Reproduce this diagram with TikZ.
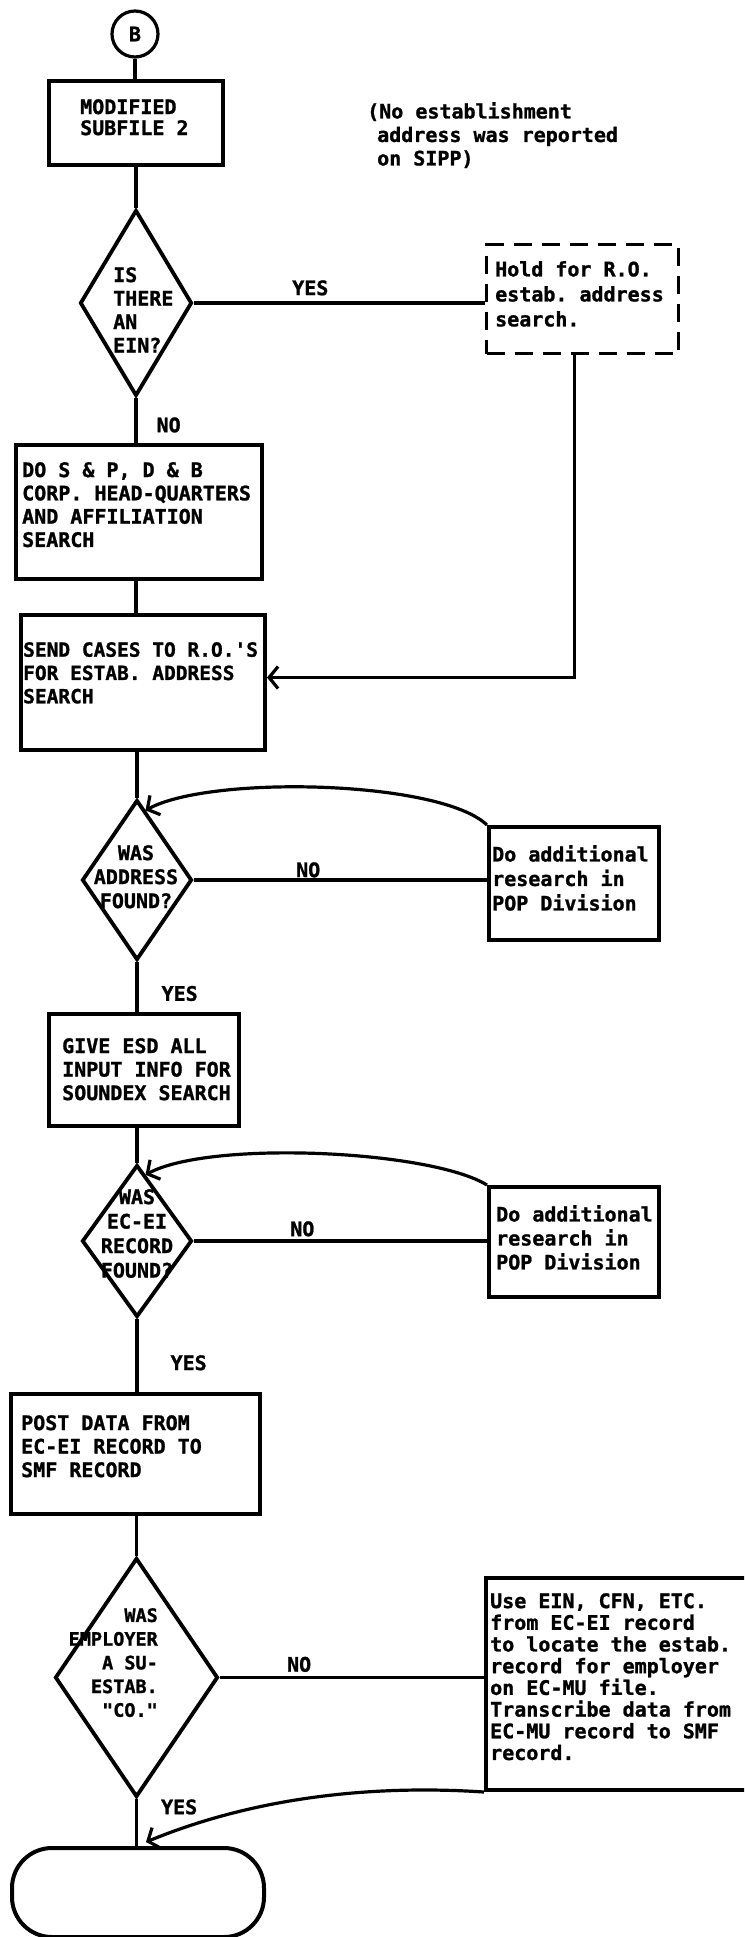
\documentclass[tikz,border=0pt]{standalone}
\usepackage{fontspec}
\setmonofont{DejaVu Sans Mono}[BoldFont={DejaVu Sans Mono Bold}, BoldFeatures={FakeBold=1.2}]
\usetikzlibrary{shapes.geometric,arrows.meta,calc}
\begin{document}
\begin{tikzpicture}[x=1pt,y=-1pt,
  every node/.style={inner sep=0pt},
  ln/.style={line width=3.2pt},
  arr/.style={-{Straight Barb[length=9pt,width=22pt]}},
  bx/.style={draw, line width=4pt, rectangle, anchor=north west},
  dia/.style={draw, diamond, line width=3.8pt},
  txt/.style={font=\ttfamily\bfseries\fontsize{20}{#1}\selectfont, align=left, anchor=north west},
  ctxt/.style={font=\ttfamily\bfseries\fontsize{20}{#1}\selectfont, align=center, anchor=north},
  lbl/.style={font=\ttfamily\bfseries\fontsize{20}{24}\selectfont}
]
\clip (0,0) rectangle (744,1937);
\fill[white] (0,0) rectangle (744,1937);

% start connector
\node[draw, circle, line width=3.2pt, minimum size=46pt, font=\ttfamily\bfseries\fontsize{20}{24}\selectfont] (b) at (135,34) {B};

% boxes
\node[bx, minimum width=174pt, minimum height=84pt] (mod) at (47,79) {};
\node[txt=21] (modt) at (80,99) {MODIFIED\\SUBFILE 2};

\node[txt=23.5] (note) at (367,102) {(No establishment\\\hspace*{10pt}address was reported\\\hspace*{10pt}on SIPP)};

\node[dia, minimum width=112pt, minimum height=186pt] (d1) at (136,303) {};
\node[txt=23.5] (d1t) at (113,267) {IS\\THERE\\AN\\EIN?};

\node[bx, dashed, dash pattern=on 18pt off 10pt, line width=3.4pt, minimum width=192pt, minimum height=109pt] (hold) at (485,243) {};
\node[txt=25] (holdt) at (495,261) {Hold for R.O.\\estab. address\\search.};

\node[bx, minimum width=246pt, minimum height=134pt] (dosp) at (14,443) {};
\node[txt=23.3] (dospt) at (22,462) {DO S \& P, D \& B\\CORP. HEAD-QUARTERS\\AND AFFILIATION\\SEARCH};

\node[bx, minimum width=244pt, minimum height=135pt] (send) at (19,613) {};
\node[txt=23.3, font=\ttfamily\bfseries\fontsize{19.5}{23.3}\selectfont] (sendt) at (23,642) {SEND CASES TO R.O.'S\\FOR ESTAB. ADDRESS\\SEARCH};

\node[dia, minimum width=110pt, minimum height=160pt] (d2) at (137,880) {};
\node[ctxt=24] (d2t) at (136,845) {WAS\\ADDRESS\\FOUND?};

\node[bx, minimum width=170pt, minimum height=113pt] (add1) at (487,825) {};
\node[txt=24.5] (add1t) at (492,845) {Do additional\\research in\\POP Division};

\node[bx, minimum width=190pt, minimum height=112pt] (give) at (47,1012) {};
\node[txt=23.5] (givet) at (62,1038) {GIVE ESD ALL\\INPUT INFO FOR\\SOUNDEX SEARCH};

\node[dia, minimum width=110pt, minimum height=152pt] (d3) at (137,1241) {};
\node[ctxt=24.5] (d3t) at (137,1189) {WAS\\EC-EI\\RECORD\\FOUND?};

\node[bx, minimum width=170pt, minimum height=110pt] (add2) at (487,1185) {};
\node[txt=24] (add2t) at (496,1205) {Do additional\\research in\\POP Division};

\node[bx, minimum width=249pt, minimum height=120pt] (post) at (9,1392) {};
\node[txt=23.5] (postt) at (21,1415) {POST DATA FROM\\EC-EI RECORD TO\\SMF RECORD};

\node[dia, minimum width=163pt, minimum height=239pt] (d4) at (136.5,1677.5) {};
\node[txt=23.7, font=\ttfamily\bfseries\fontsize{18.5}{23.7}\selectfont, align=right, anchor=north east] (d4t) at (158,1608) {WAS\\EMPLOYER\\A SU-\\ESTAB.\\"CO."};

\node[bx, minimum width=300pt, minimum height=212pt] (use) at (484,1576) {};
\node[txt=21.7] (uset) at (490,1593) {Use EIN, CFN, ETC.\\from EC-EI record\\to locate the estab.\\record for employer\\on EC-MU file.\\Transcribe data from\\EC-MU record to SMF\\record.};

\node[draw, line width=4pt, rectangle, rounded corners=40pt, anchor=north west, minimum width=252pt, minimum height=89pt] (term) at (10,1846) {};

% connectors
\draw[ln] (b.south) -- (b.south |- mod.north);
\draw[ln] (d1.north |- mod.south) -- (d1.north);
\draw[ln] (d1.east) -- node[lbl, pos=0.4, anchor=south, yshift=6pt] {YES} (d1.east -| hold.west);
\draw[ln] (d1.south) -- node[lbl, pos=0.6, anchor=west, xshift=19pt] {NO} (d1.south |- dosp.north);
\draw[ln] (d1.south |- dosp.south) -- (d1.south |- send.north);
\draw[ln, arr] ([xshift=-8pt]hold.south) |- ([yshift=5pt]send.east);

\draw[ln] (d2.north |- send.south) -- (d2.north);
\draw[ln] (d2.east) -- node[lbl, pos=0.39, anchor=south, yshift=1pt] {NO} (d2.east -| add1.west);
\draw[ln, arr] (add1.north west) .. controls (440,780) and (210,775) .. ($(d2.north)!0.15!(d2.east)$);
\draw[ln] (d2.south) -- node[lbl, pos=0.63, anchor=west, xshift=23pt] {YES} (d2.south |- give.north);

\draw[ln] (d3.north |- give.south) -- (d3.north);
\draw[ln] (d3.east) -- node[lbl, pos=0.37, anchor=south, yshift=3pt] {NO} (d3.east -| add2.west);
\draw[ln, arr] (add2.north west) .. controls (430,1150) and (210,1140) .. ($(d3.north)!0.15!(d3.east)$);
\draw[ln] (d3.south) -- node[lbl, pos=0.6, anchor=west, xshift=32pt] {YES} (d3.south |- post.north);

\draw[ln] (d4.north |- post.south) -- (d4.north);
\draw[ln] (d4.east) -- node[lbl, pos=0.30, anchor=south, yshift=4pt] {NO} (d4.east -| use.west);
\draw[ln] (d4.south) -- node[lbl, pos=0.17, anchor=west, xshift=23pt] {YES} (d4.south |- term.north);
\draw[ln, arr] (use.south west) .. controls (380,1785) and (260,1795) .. ([xshift=8pt,yshift=4pt]term.north);
\end{tikzpicture}
\end{document}
